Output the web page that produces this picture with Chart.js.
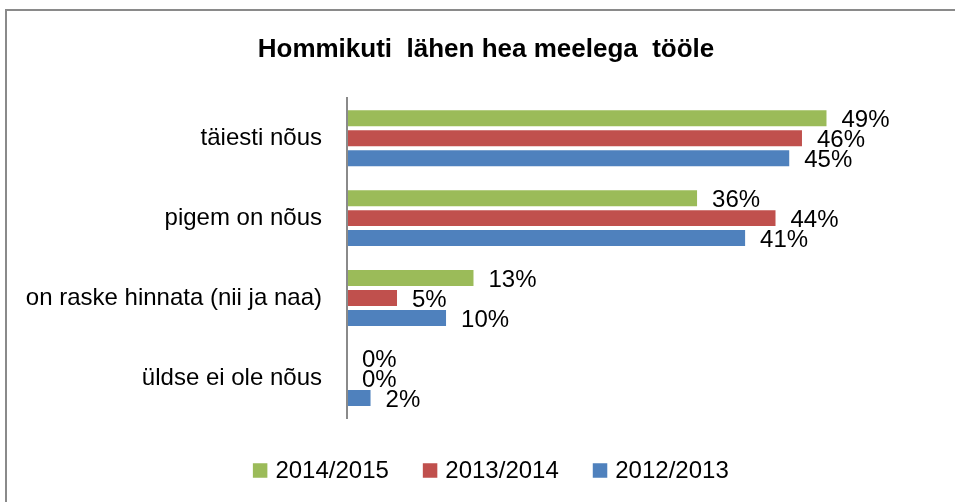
<!DOCTYPE html>
<html>
<head>
<meta charset="utf-8">
<script src="https://cdn.jsdelivr.net/npm/chart.js@4.4.1/dist/chart.umd.min.js"></script>
<style>
  html, body { margin: 0; padding: 0; background: #fff; }
  #wrap { width: 955px; height: 502px; position: relative; }
</style>
</head>
<body>
<div id="wrap"><canvas id="c" width="955" height="502"></canvas></div>
<script>
const titleText = 'Hommikuti  lähen hea meelega  tööle';
const categories = ['täiesti nõus', 'pigem on nõus', 'on raske hinnata (nii ja naa)', 'üldse ei ole nõus'];
const seriesNames = ['2014/2015', '2013/2014', '2012/2013'];
const values2014_2015 = [48.9, 35.7, 12.9, 0];
const values2013_2014 = [46.4, 43.7, 5.1, 0];
const values2012_2013 = [45.1, 40.6, 10.1, 2.4];
const seriesColors = ['#9BBB59', '#C0504D', '#4F81BD'];

const FONT = '"Liberation Sans", Arial, sans-serif';

const framePlugin = {
  id: 'frame',
  beforeDraw(chart) {
    const ctx = chart.ctx;
    ctx.save();
    ctx.fillStyle = '#ffffff';
    ctx.fillRect(0, 0, chart.width, chart.height);
    ctx.strokeStyle = '#8a8a8a';
    ctx.lineWidth = 2;
    ctx.strokeRect(6, 10, chart.width + 20, chart.height + 20);
    ctx.restore();
  }
};

const labelPlugin = {
  id: 'barLabels',
  afterDatasetsDraw(chart) {
    const ctx = chart.ctx;
    ctx.save();
    ctx.font = '24px ' + FONT;
    ctx.fillStyle = '#000';
    ctx.textAlign = 'left';
    ctx.textBaseline = 'middle';
    chart.data.datasets.forEach((ds, i) => {
      const meta = chart.getDatasetMeta(i);
      meta.data.forEach((bar, j) => {
        const txt = Math.round(ds.data[j]) + '%';
        ctx.fillText(txt, bar.x + 15, bar.y + 2);
      });
    });
    ctx.restore();
  }
};

const legendPlugin = {
  id: 'customLegend',
  afterDraw(chart) {
    const ctx = chart.ctx;
    ctx.save();
    ctx.font = '24px ' + FONT;
    ctx.textBaseline = 'middle';
    ctx.textAlign = 'left';
    const box = 14.5, gapText = 8, gapItem = 34;
    const items = chart.data.datasets.map(d => ({ text: d.label, color: d.backgroundColor, w: ctx.measureText(d.label).width }));
    let total = 0;
    items.forEach((it, k) => { total += box + gapText + it.w + (k < items.length - 1 ? gapItem : 0); });
    let x = 490.8 - total / 2;
    const cy = 470.5;
    items.forEach(it => {
      ctx.fillStyle = it.color;
      ctx.fillRect(x, cy - box / 2, box, box);
      ctx.fillStyle = '#000';
      ctx.fillText(it.text, x + box + gapText, cy + 1);
      x += box + gapText + it.w + gapItem;
    });
    ctx.restore();
  }
};

const seriesValues = [values2014_2015, values2013_2014, values2012_2013];

new Chart(document.getElementById('c'), {
  type: 'bar',
  data: {
    labels: categories,
    datasets: seriesNames.map((name, i) => ({
      label: name,
      data: seriesValues[i],
      backgroundColor: seriesColors[i],
      borderWidth: 0,
      categoryPercentage: 0.75,
      barPercentage: 0.8
    }))
  },
  options: {
    indexAxis: 'y',
    responsive: false,
    animation: false,
    devicePixelRatio: 1,
    layout: { padding: { left: 20, right: 3, top: 0, bottom: 84 } },
    plugins: {
      legend: { display: false },
      tooltip: { enabled: false },
      title: {
        display: true,
        text: titleText,
        color: '#000',
        font: { family: FONT, size: 26, weight: 'bold', lineHeight: 1.2 },
        padding: { top: 34, bottom: 33 }
      }
    },
    scales: {
      x: {
        display: false,
        min: 0,
        max: 61.7
      },
      y: {
        grid: { display: false, drawTicks: false },
        border: { display: true, color: '#8a8a8a', width: 2, z: 1 },
        ticks: {
          color: '#000',
          padding: 25,
          font: { family: FONT, size: 24 }
        },
        afterFit(scale) { scale.width = 327; }
      }
    }
  },
  plugins: [framePlugin, labelPlugin, legendPlugin]
});
</script>
</body>
</html>
